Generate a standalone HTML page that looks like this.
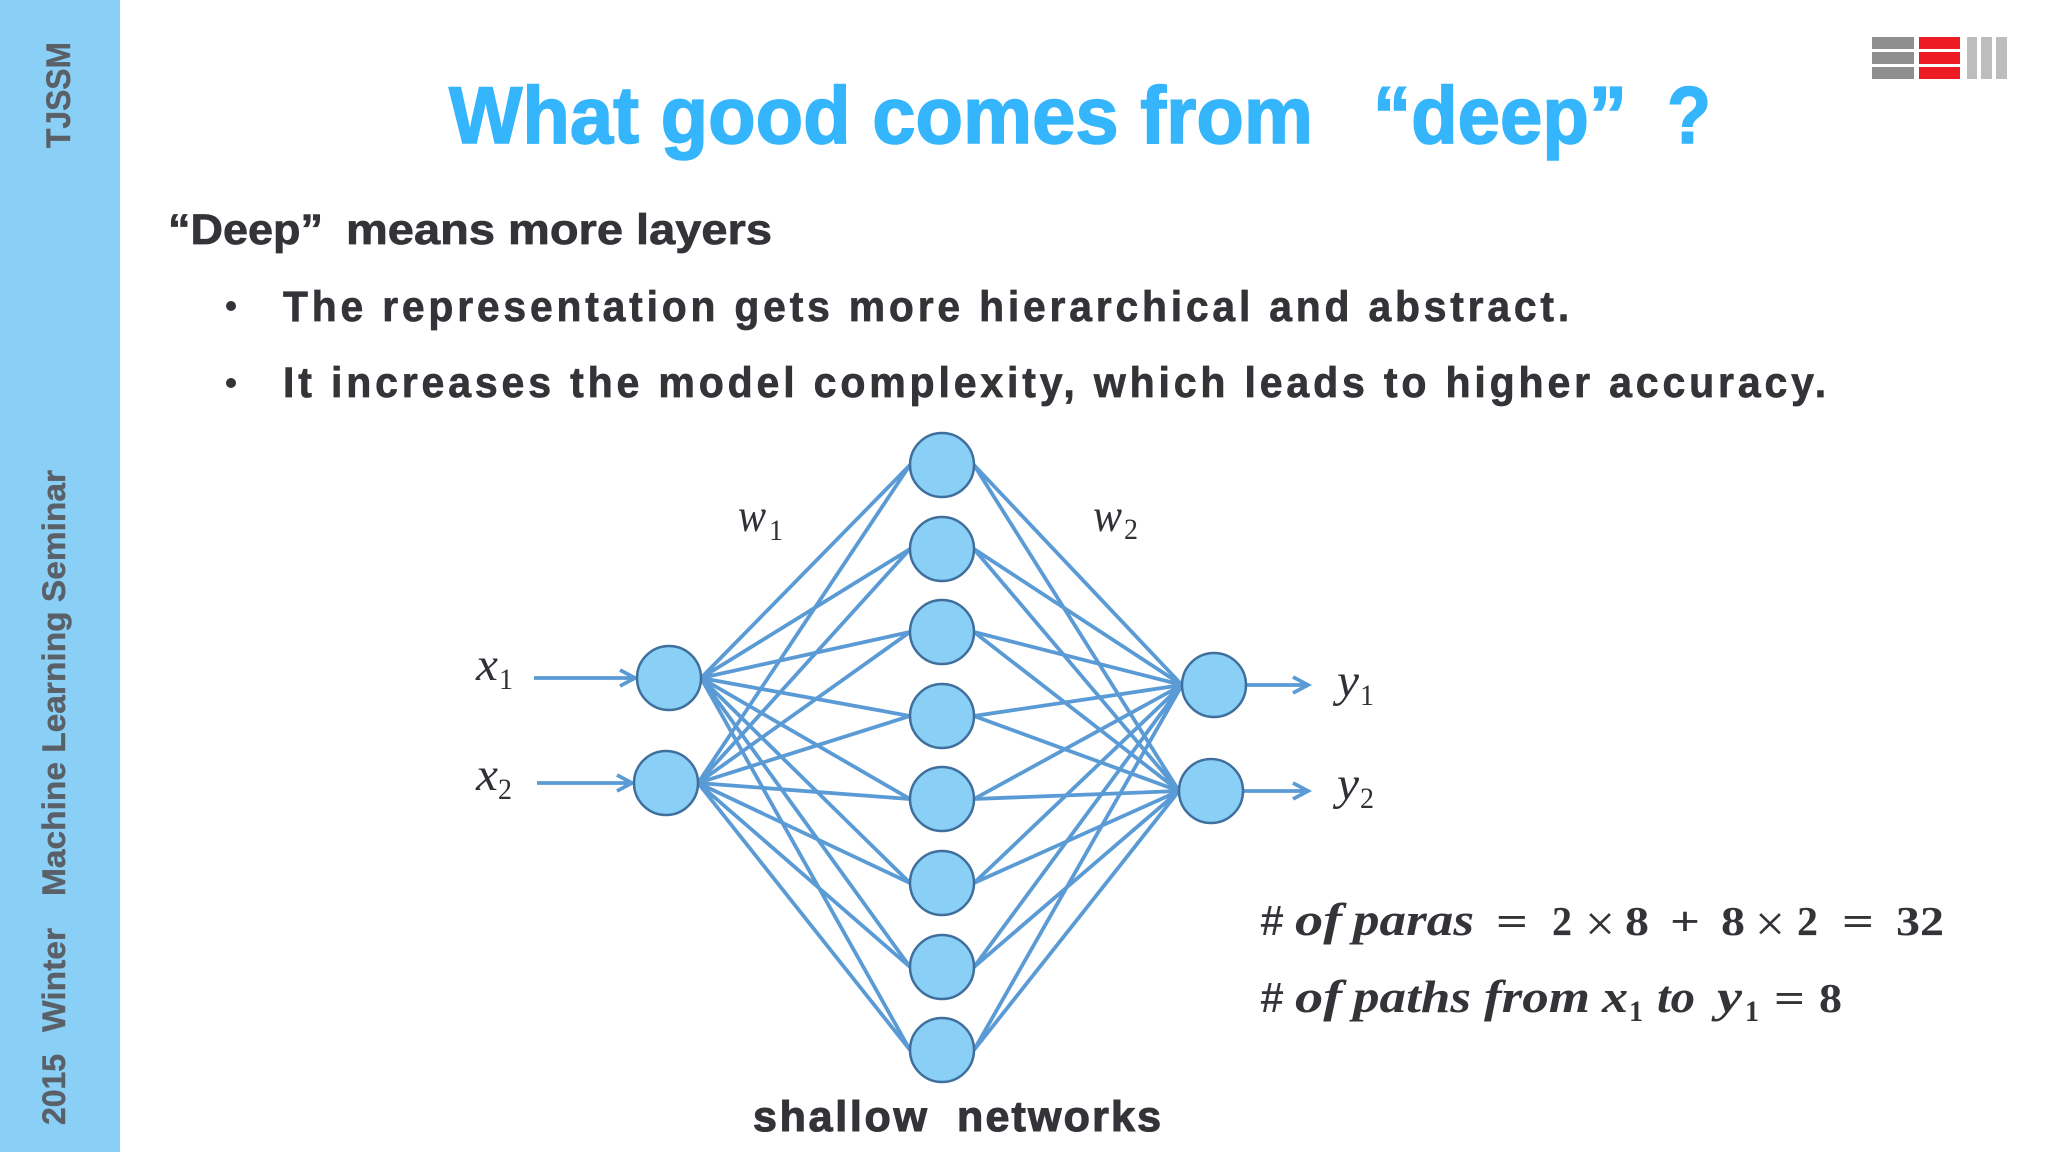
<!DOCTYPE html>
<html><head><meta charset="utf-8"><style>
html,body{margin:0;padding:0;background:#fff;width:2048px;height:1152px;overflow:hidden}
svg{display:block}
.sans{font-family:"Liberation Sans",sans-serif;font-weight:700}
.t{fill:#35b5fb;stroke:#35b5fb;stroke-width:1.6px;font-size:81px}
.b{fill:#343338;stroke:#343338;stroke-width:.7px;font-size:43px}
.l{letter-spacing:4px}
.cap{stroke-width:1.1px;font-size:43px}
.s{fill:#5a6068;stroke:#5a6068;stroke-width:.4px}
.m{font-family:"Liberation Serif",serif;font-style:italic;fill:#303036;font-size:47px}
.sub{font-family:"Liberation Serif",serif;fill:#303036;font-size:30px}
.f{font-family:"Liberation Serif",serif;font-style:italic;font-weight:700;fill:#343338;font-size:46px}
.h{font-family:"Liberation Sans",sans-serif;font-weight:400;fill:#343338;font-size:42px;stroke:#343338;stroke-width:.6px}
.n{font-family:"Liberation Serif",serif;font-weight:700;fill:#343338;font-size:41px}
.o{font-family:"Liberation Serif",serif;fill:#343338;font-size:52px}
.fs{font-family:"Liberation Serif",serif;font-weight:700;fill:#343338;font-size:30px}
</style></head><body>
<svg width="2048" height="1152" viewBox="0 0 2048 1152" xmlns="http://www.w3.org/2000/svg">
<rect width="2048" height="1152" fill="#fff"/>
<rect width="120" height="1152" fill="#89cff6"/>

<text class="sans s" font-size="34" transform="translate(70 148) rotate(-90)" textLength="106" lengthAdjust="spacingAndGlyphs">TJSSM</text>
<text class="sans s" font-size="32" transform="translate(65 1125) rotate(-90)" textLength="71" lengthAdjust="spacingAndGlyphs">2015</text>
<text class="sans s" font-size="32" transform="translate(65 1032) rotate(-90)" textLength="104" lengthAdjust="spacingAndGlyphs">Winter</text>
<text class="sans s" font-size="32" transform="translate(65 896) rotate(-90)" textLength="426" lengthAdjust="spacingAndGlyphs">Machine Learning Seminar</text>

<g fill="#8f8f8f"><rect x="1872" y="37" width="42" height="12"/><rect x="1872" y="52" width="42" height="12"/><rect x="1872" y="67" width="42" height="12"/></g>
<g fill="#ed1c24"><rect x="1919" y="37" width="41" height="12"/><rect x="1919" y="52" width="41" height="12"/><rect x="1919" y="67" width="41" height="12"/></g>
<g fill="#bcbebd"><rect x="1967" y="37" width="10" height="42"/><rect x="1981" y="37" width="11" height="42"/><rect x="1996" y="37" width="11" height="42"/></g>

<text class="sans t" x="449" y="143" textLength="864" lengthAdjust="spacingAndGlyphs">What good comes from</text>
<text class="sans t" x="1373" y="143" textLength="254" lengthAdjust="spacingAndGlyphs">“deep”</text>
<text class="sans t" x="1667" y="143" textLength="44" lengthAdjust="spacingAndGlyphs">?</text>

<text class="sans b" x="168" y="244" textLength="155" lengthAdjust="spacingAndGlyphs">“Deep”</text>
<text class="sans b" x="346" y="244" textLength="426" lengthAdjust="spacingAndGlyphs">means more layers</text>
<circle cx="231" cy="306" r="5" fill="#343338"/>
<text class="sans b l" x="283" y="321" textLength="1290" lengthAdjust="spacingAndGlyphs">The representation gets more hierarchical and abstract.</text>
<circle cx="231" cy="383" r="5" fill="#343338"/>
<text class="sans b l" x="283" y="397" textLength="1547" lengthAdjust="spacingAndGlyphs">It increases the model complexity, which leads to higher accuracy.</text>

<g stroke="#5b9bd5" stroke-width="3.8" fill="none">
<path d="M701 678L910 465M701 678L910 549M701 678L910 632M701 678L910 716M701 678L910 799M701 678L910 883M701 678L910 967M701 678L910 1050"/>
<path d="M698 783L910 465M698 783L910 549M698 783L910 632M698 783L910 716M698 783L910 799M698 783L910 883M698 783L910 967M698 783L910 1050"/>
<path d="M974 465L1182 685M974 549L1182 685M974 632L1182 685M974 716L1182 685M974 799L1182 685M974 883L1182 685M974 967L1182 685M974 1050L1182 685"/>
<path d="M974 465L1179 791M974 549L1179 791M974 632L1179 791M974 716L1179 791M974 799L1179 791M974 883L1179 791M974 967L1179 791M974 1050L1179 791"/>
<path d="M534 678H635M620 670L635 678L620 686"/>
<path d="M537 783H632M617 775L632 783L617 791"/>
<path d="M1246 685H1308M1293 677L1308 685L1293 693"/>
<path d="M1243 791H1308M1293 783L1308 791L1293 799"/>
</g>
<g fill="#89cff6" stroke="#3f6f9d" stroke-width="2.5">
<circle cx="669" cy="678" r="32"/><circle cx="666" cy="783" r="32"/>
<circle cx="942" cy="465" r="32"/><circle cx="942" cy="549" r="32"/><circle cx="942" cy="632" r="32"/><circle cx="942" cy="716" r="32"/><circle cx="942" cy="799" r="32"/><circle cx="942" cy="883" r="32"/><circle cx="942" cy="967" r="32"/><circle cx="942" cy="1050" r="32"/>
<circle cx="1214" cy="685" r="32"/><circle cx="1211" cy="791" r="32"/>
</g>

<text class="m" x="738" y="531" textLength="28" lengthAdjust="spacingAndGlyphs">w</text><text class="sub" x="769" y="540" textLength="14" lengthAdjust="spacingAndGlyphs">1</text>
<text class="m" x="1093" y="531" textLength="29" lengthAdjust="spacingAndGlyphs">w</text><text class="sub" x="1124" y="539" textLength="14" lengthAdjust="spacingAndGlyphs">2</text>
<text class="m" x="476" y="680" textLength="22" lengthAdjust="spacingAndGlyphs">x</text><text class="sub" x="499" y="689" textLength="14" lengthAdjust="spacingAndGlyphs">1</text>
<text class="m" x="476" y="790" textLength="22" lengthAdjust="spacingAndGlyphs">x</text><text class="sub" x="498" y="799" textLength="14" lengthAdjust="spacingAndGlyphs">2</text>
<text class="m" x="1337" y="696" textLength="22" lengthAdjust="spacingAndGlyphs">y</text><text class="sub" x="1360" y="705" textLength="14" lengthAdjust="spacingAndGlyphs">1</text>
<text class="m" x="1337" y="799" textLength="22" lengthAdjust="spacingAndGlyphs">y</text><text class="sub" x="1360" y="808" textLength="14" lengthAdjust="spacingAndGlyphs">2</text>

<text class="h" x="1261" y="935" textLength="22" lengthAdjust="spacingAndGlyphs">#</text>
<text class="f" x="1295" y="935" textLength="47" lengthAdjust="spacingAndGlyphs">of</text>
<text class="f" x="1353" y="935" textLength="121" lengthAdjust="spacingAndGlyphs">paras</text>
<text class="n" x="1496" y="935" textLength="32" lengthAdjust="spacingAndGlyphs">=</text>
<text class="n" x="1552" y="935" textLength="20" lengthAdjust="spacingAndGlyphs">2</text>
<text class="o" x="1585" y="941" textLength="30" lengthAdjust="spacingAndGlyphs">×</text>
<text class="n" x="1625" y="935" textLength="24" lengthAdjust="spacingAndGlyphs">8</text>
<text class="n" x="1670" y="935" textLength="30" lengthAdjust="spacingAndGlyphs">+</text>
<text class="n" x="1721" y="935" textLength="24" lengthAdjust="spacingAndGlyphs">8</text>
<text class="o" x="1755" y="941" textLength="30" lengthAdjust="spacingAndGlyphs">×</text>
<text class="n" x="1797" y="935" textLength="21" lengthAdjust="spacingAndGlyphs">2</text>
<text class="n" x="1842" y="935" textLength="32" lengthAdjust="spacingAndGlyphs">=</text>
<text class="n" x="1896" y="935" textLength="48" lengthAdjust="spacingAndGlyphs">32</text>

<text class="h" x="1261" y="1012" textLength="22" lengthAdjust="spacingAndGlyphs">#</text>
<text class="f" x="1295" y="1012" textLength="47" lengthAdjust="spacingAndGlyphs">of</text>
<text class="f" x="1353" y="1012" textLength="118" lengthAdjust="spacingAndGlyphs">paths</text>
<text class="f" x="1484" y="1012" textLength="106" lengthAdjust="spacingAndGlyphs">from</text>
<text class="f" x="1602" y="1012" textLength="26" lengthAdjust="spacingAndGlyphs">x</text>
<text class="fs" x="1629" y="1021" textLength="14" lengthAdjust="spacingAndGlyphs">1</text>
<text class="f" x="1657" y="1012" textLength="38" lengthAdjust="spacingAndGlyphs">to</text>
<text class="f" x="1717" y="1012" textLength="25" lengthAdjust="spacingAndGlyphs">y</text>
<text class="fs" x="1745" y="1021" textLength="14" lengthAdjust="spacingAndGlyphs">1</text>
<text class="n" x="1774" y="1012" textLength="31" lengthAdjust="spacingAndGlyphs">=</text>
<text class="n" x="1819" y="1012" textLength="23" lengthAdjust="spacingAndGlyphs">8</text>

<text class="sans b cap" x="753" y="1131" textLength="174" lengthAdjust="spacing">shallow</text>
<text class="sans b cap" x="957" y="1131" textLength="204" lengthAdjust="spacing">networks</text>
</svg>
</body></html>
